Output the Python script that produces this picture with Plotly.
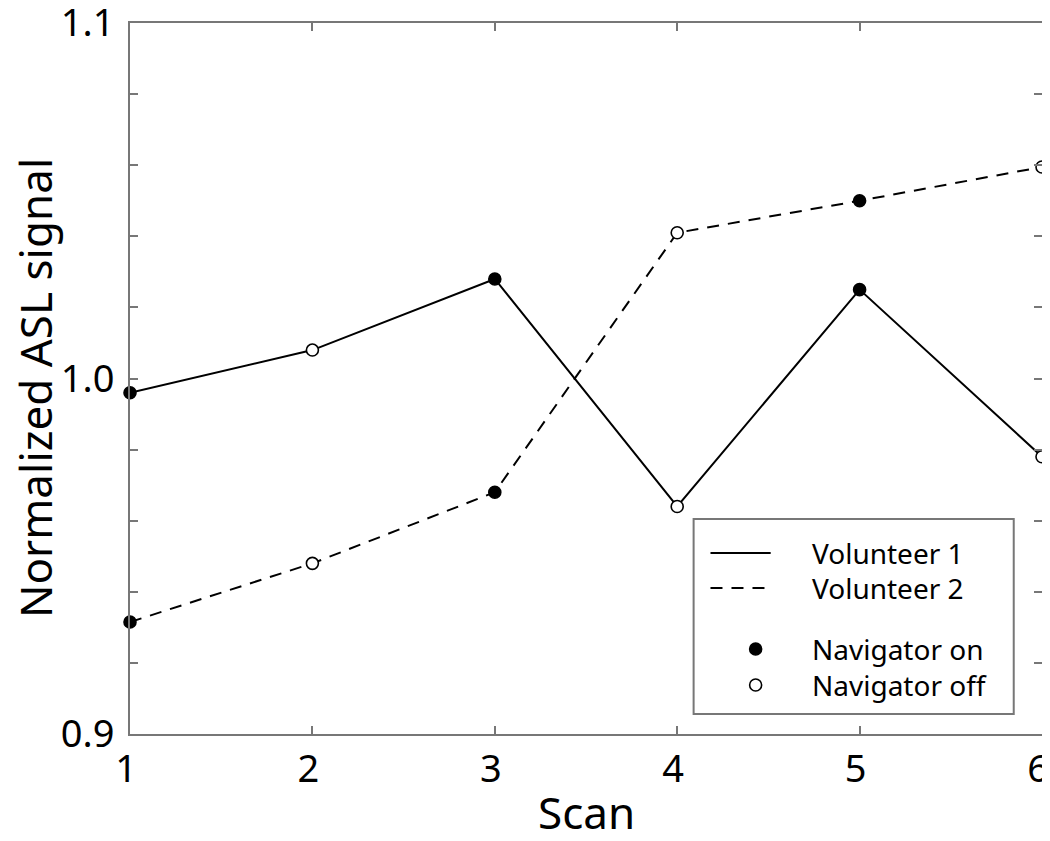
import plotly.graph_objects as go

# Scan numbers and normalized ASL signal per volunteer
scans = [1, 2, 3, 4, 5, 6]
volunteer1 = [0.996, 1.008, 1.028, 0.964, 1.025, 0.978]
volunteer2 = [0.9315, 0.948, 0.968, 1.041, 1.050, 1.0595]
# navigator state for each scan (True = on)
navigator_on = [True, False, True, False, True, False]

y_ticks = [0.9, 0.92, 0.94, 0.96, 0.98, 1.0, 1.02, 1.04, 1.06, 1.08, 1.1]
y_ticklabels = ["0.9", "", "", "", "", "1.0", "", "", "", "", "1.1"]

legend_lines = ["Volunteer 1", "Volunteer 2"]
legend_markers = ["Navigator on", "Navigator off"]

FONT = "Noto Sans"
AXIS_GRAY = "#777777"
DASH = "12px,9px"
fill = ["black" if on else "white" for on in navigator_on]

# plot area size in px (used to turn pixel offsets into paper units)
PW, PH = 912, 711

fig = go.Figure()

for vals, dash in [(volunteer1, "solid"), (volunteer2, DASH)]:
    fig.add_trace(go.Scatter(
        x=scans, y=vals, mode="lines+markers", showlegend=False,
        line=dict(color="black", width=2, dash=dash),
        marker=dict(size=12, color=fill, line=dict(color="black", width=1.6)),
        cliponaxis=False,
    ))

axis_common = dict(
    showgrid=False, zeroline=False, showline=True, linecolor=AXIS_GRAY, linewidth=2,
    mirror="ticks", ticks="inside", ticklen=8, tickwidth=2, tickcolor=AXIS_GRAY,
    tickfont=dict(family=FONT, size=38, color="black"),
    ticklabeloverflow="allow", automargin=False,
)

fig.update_xaxes(range=[1, 6], tickvals=scans, ticklabelshift=-4, **axis_common)
fig.update_yaxes(range=[0.9, 1.1], tickvals=y_ticks, ticktext=y_ticklabels,
                 ticklabelstandoff=6, **axis_common)

annotations = [
    dict(text="Scan", xref="paper", yref="paper", x=0.5, y=-78 / PH,
         xanchor="center", yanchor="middle", showarrow=False,
         font=dict(family=FONT, size=44, color="black")),
    dict(text="Normalized ASL signal", xref="paper", yref="paper", x=-95 / PW, y=346 / PH,
         xanchor="center", yanchor="middle", textangle=-90, showarrow=False,
         font=dict(family=FONT, size=44, color="black")),
]

# hand-built legend box (paper coordinates)
shapes = [dict(type="rect", xref="paper", yref="paper", x0=0.618, x1=0.969, y0=0.0281, y1=0.3024,
               line=dict(color=AXIS_GRAY, width=2), fillcolor="white", layer="above")]
line_rows = [0.2546, 0.2053]
for name, dash, yy in zip(legend_lines, ["solid", DASH], line_rows):
    shapes.append(dict(type="line", xref="paper", yref="paper", x0=0.6365, x1=0.7025, y0=yy, y1=yy,
                       line=dict(color="black", width=2, dash=dash), layer="above"))
    annotations.append(dict(text=name, xref="paper", yref="paper", x=0.7455, y=yy,
                            xanchor="left", yanchor="middle", showarrow=False,
                            font=dict(family=FONT, size=28, color="black")))
marker_rows = [0.1195, 0.0689]
for name, color, yy in zip(legend_markers, ["black", "white"], marker_rows):
    r_x, r_y = 6 / PW, 6 / PH
    shapes.append(dict(type="circle", xref="paper", yref="paper",
                       x0=0.686 - r_x, x1=0.686 + r_x, y0=yy - r_y, y1=yy + r_y,
                       line=dict(color="black", width=1.6), fillcolor=color, layer="above"))
    annotations.append(dict(text=name, xref="paper", yref="paper", x=0.7455, y=yy,
                            xanchor="left", yanchor="middle", showarrow=False,
                            font=dict(family=FONT, size=28, color="black")))

# the page adds an 8px body margin; size the figure so the plot box lands where the original's does
fig.update_layout(
    width=1050, height=833,
    margin=dict(l=122, r=16, t=15, b=107),
    paper_bgcolor="white", plot_bgcolor="white",
    font=dict(family=FONT),
    showlegend=False,
    shapes=shapes,
    annotations=annotations,
)

fig.write_html("out.html")
